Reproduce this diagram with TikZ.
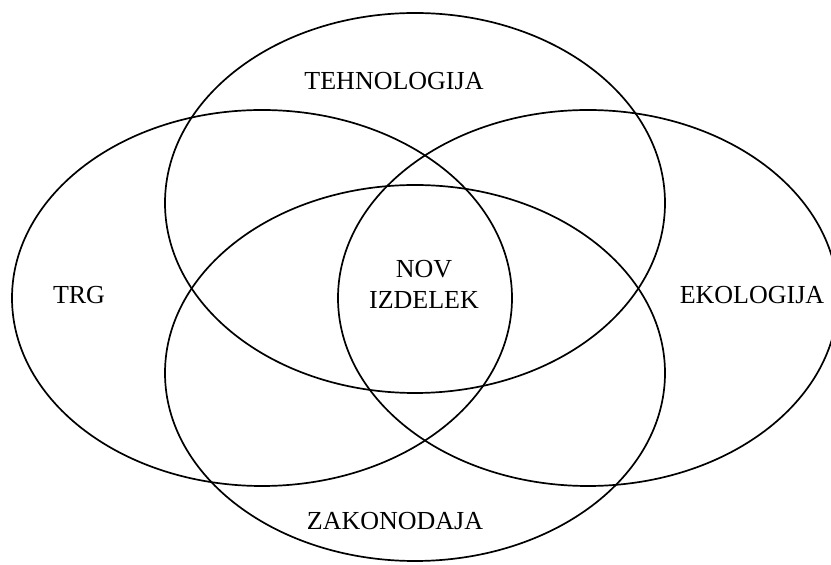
\documentclass[tikz,border=0pt]{standalone}
\usepackage{fontspec}
\setmainfont{Liberation Serif}
\begin{document}
\begin{tikzpicture}[x=1pt,y=1pt,
  ring/.style={draw=black,line width=1.7pt},
  lbl/.style={font=\fontsize{26}{31}\selectfont,inner sep=0pt,align=center}]
\useasboundingbox (0,0) rectangle (831,565);
\begin{scope}
\clip (0,0) rectangle (831,565);
% ellipses
\draw[ring] (415,362) ellipse[x radius=250,y radius=190];
\draw[ring] (262,267) ellipse[x radius=250,y radius=188];
\draw[ring] (588,267) ellipse[x radius=250,y radius=188];
\draw[ring] (415,192) ellipse[x radius=250,y radius=188];
\end{scope}
% labels
\node[lbl] (teh) at (394,484) {TEHNOLOGIJA};
\node[lbl] (trg) at (79,270) {TRG};
\node[lbl] (eko) at (752,270) {EKOLOGIJA};
\node[lbl] (zak) at (395,44) {ZAKONODAJA};
\node[lbl] (nov) at (424,281) {NOV\\IZDELEK};
\end{tikzpicture}
\end{document}
